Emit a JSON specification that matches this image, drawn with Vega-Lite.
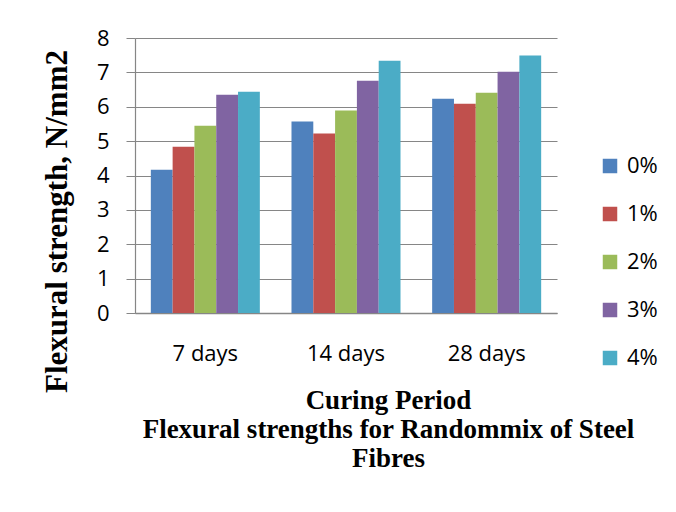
{
  "$schema": "https://vega.github.io/schema/vega-lite/v6.json",
  "width": 422,
  "height": 275,
  "autosize": "none",
  "padding": {"left": 135, "top": 38, "right": 119, "bottom": 199},
  "background": "white",
  "data": {
    "values": [
      {"period": "7 days", "fibre": "0%", "strength": 4.17},
      {"period": "7 days", "fibre": "1%", "strength": 4.84},
      {"period": "7 days", "fibre": "2%", "strength": 5.45},
      {"period": "7 days", "fibre": "3%", "strength": 6.35},
      {"period": "7 days", "fibre": "4%", "strength": 6.44},
      {"period": "14 days", "fibre": "0%", "strength": 5.57},
      {"period": "14 days", "fibre": "1%", "strength": 5.22},
      {"period": "14 days", "fibre": "2%", "strength": 5.89},
      {"period": "14 days", "fibre": "3%", "strength": 6.76},
      {"period": "14 days", "fibre": "4%", "strength": 7.34},
      {"period": "28 days", "fibre": "0%", "strength": 6.23},
      {"period": "28 days", "fibre": "1%", "strength": 6.09},
      {"period": "28 days", "fibre": "2%", "strength": 6.41},
      {"period": "28 days", "fibre": "3%", "strength": 7.02},
      {"period": "28 days", "fibre": "4%", "strength": 7.49}
    ]
  },
  "mark": {"type": "bar", "stroke": null},
  "encoding": {
    "x": {
      "field": "period",
      "type": "nominal",
      "sort": ["7 days", "14 days", "28 days"],
      "scale": {"paddingInner": 0.225, "paddingOuter": 0.1125},
      "axis": {
        "title": ["Curing Period", "Flexural strengths for Randommix of Steel", "Fibres"],
        "titleFont": "Liberation Serif",
        "titleFontWeight": "bold",
        "titleFontSize": 27,
        "titleLineHeight": 29,
        "titleColor": "black",
        "titleX": 253,
        "titleY": 95,
        "titleAlign": "center",
        "titleBaseline": "alphabetic",
        "labelAngle": 0,
        "labelFont": "Open Sans",
        "labelFontSize": 22,
        "labelColor": "black",
        "labelPadding": 30,
        "ticks": false,
        "domainColor": "#868686",
        "domainWidth": 1.5
      }
    },
    "xOffset": {
      "field": "fibre",
      "type": "nominal",
      "scale": {"paddingInner": 0, "paddingOuter": 0}
    },
    "y": {
      "field": "strength",
      "type": "quantitative",
      "scale": {"domain": [0, 8], "nice": false},
      "axis": {
        "values": [0, 1, 2, 3, 4, 5, 6, 7, 8],
        "title": "Flexural strength, N/mm2",
        "titleFont": "Liberation Serif",
        "titleFontWeight": "bold",
        "titleFontSize": 31,
        "titleColor": "black",
        "titleAngle": 270,
        "titleX": -69,
        "titleY": 183,
        "titleAlign": "center",
        "titleBaseline": "alphabetic",
        "labelFont": "Open Sans",
        "labelFontSize": 22,
        "labelColor": "black",
        "labelPadding": 17,
        "tickSize": 9,
        "tickColor": "#868686",
        "gridColor": "#868686",
        "gridWidth": 1.2,
        "domainColor": "#868686",
        "domainWidth": 1.2
      }
    },
    "color": {
      "field": "fibre",
      "type": "nominal",
      "scale": {
        "domain": ["0%", "1%", "2%", "3%", "4%"],
        "range": ["#4F81BD", "#C0504D", "#9BBB59", "#8064A2", "#4BACC6"]
      },
      "legend": {
        "title": null,
        "orient": "none",
        "legendX": 464,
        "legendY": 117,
        "symbolType": "square",
        "symbolSize": 210,
        "symbolStrokeWidth": 0,
        "symbolOpacity": 1,
        "labelFont": "Open Sans",
        "labelFontSize": 22,
        "labelColor": "black",
        "labelOffset": 6,
        "rowPadding": 26,
        "padding": 0
      }
    }
  },
  "config": {
    "view": {"stroke": null},
    "axis": {"gridOpacity": 1}
  }
}
